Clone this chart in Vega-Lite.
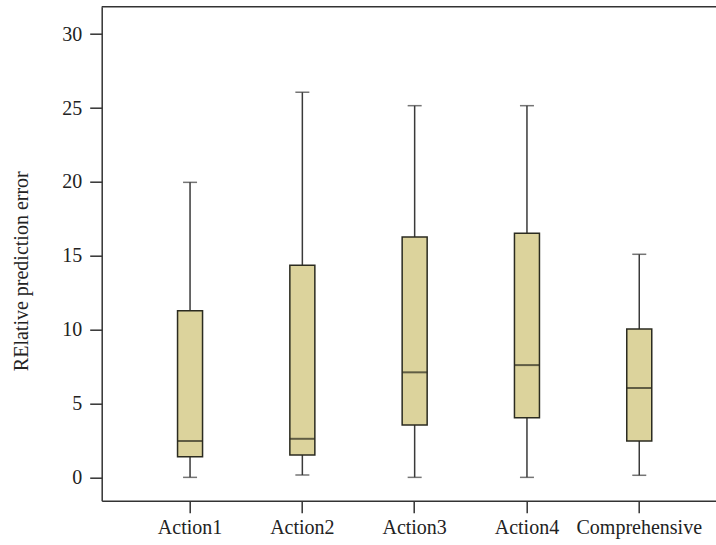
{
  "$schema": "https://vega.github.io/schema/vega-lite/v6.json",
  "autosize": {"type": "none"},
  "width": 614.3,
  "height": 494,
  "padding": {"left": 101.7, "top": 6.7, "right": 0, "bottom": 44.3},
  "background": "white",
  "config": {
    "view": {"stroke": null},
    "axis": {
      "grid": false,
      "domainColor": "#333333",
      "domainWidth": 1.5,
      "tickColor": "#333333",
      "tickWidth": 1.5,
      "tickSize": 12,
      "labelFont": "Liberation Serif",
      "labelFontSize": 20,
      "labelColor": "#222222",
      "titleFont": "Liberation Serif",
      "titleFontSize": 20,
      "titleFontWeight": "normal",
      "titleColor": "#222222"
    }
  },
  "data": {
    "values": [
      {"category": "Action1", "min": 0, "q1": 1.39, "median": 2.46, "q3": 11.28, "max": 19.97},
      {"category": "Action2", "min": 0.16, "q1": 1.51, "median": 2.61, "q3": 14.35, "max": 26.07},
      {"category": "Action3", "min": 0, "q1": 3.54, "median": 7.11, "q3": 16.27, "max": 25.16},
      {"category": "Action4", "min": 0, "q1": 4.04, "median": 7.6, "q3": 16.52, "max": 25.16},
      {"category": "Comprehensive", "min": 0.14, "q1": 2.46, "median": 6.05, "q3": 10.04, "max": 15.1}
    ]
  },
  "layer": [
    {
      "mark": {"type": "rule", "color": "#3a3a3a", "strokeWidth": 1.5},
      "encoding": {
        "x": {
          "field": "category",
          "type": "nominal",
          "sort": null,
          "scale": {"type": "band", "paddingInner": 0, "paddingOuter": 0.235, "align": 0.61},
          "axis": {"title": null, "labelAngle": 0, "labelPadding": 5, "labelBaseline": "top"}
        },
        "y": {
          "field": "min",
          "type": "quantitative",
          "scale": {"domain": [-1.58, 31.86], "nice": false, "zero": false},
          "axis": {
            "title": "RElative prediction error",
            "values": [0, 5, 10, 15, 20, 25, 30],
            "labelPadding": 8,
            "titleX": -80,
            "titleY": 264,
            "titleAngle": -90,
            "titleAlign": "center",
            "titleBaseline": "middle"
          }
        },
        "y2": {"field": "max"}
      }
    },
    {
      "mark": {"type": "tick", "color": "#3a3a3a", "size": 14, "thickness": 1.5},
      "encoding": {
        "x": {"field": "category", "type": "nominal", "sort": null},
        "y": {"field": "min", "type": "quantitative"}
      }
    },
    {
      "mark": {"type": "tick", "color": "#3a3a3a", "size": 14, "thickness": 1.5},
      "encoding": {
        "x": {"field": "category", "type": "nominal", "sort": null},
        "y": {"field": "max", "type": "quantitative"}
      }
    },
    {
      "mark": {"type": "bar", "fill": "#dcd39c", "stroke": "#2b2b20", "strokeWidth": 1.5, "size": 25},
      "encoding": {
        "x": {"field": "category", "type": "nominal", "sort": null},
        "y": {"field": "q1", "type": "quantitative"},
        "y2": {"field": "q3"}
      }
    },
    {
      "mark": {"type": "tick", "color": "#2b2b20", "size": 25, "thickness": 2},
      "encoding": {
        "x": {"field": "category", "type": "nominal", "sort": null},
        "y": {"field": "median", "type": "quantitative"}
      }
    },
    {
      "data": {"values": [{"frame": "top"}]},
      "mark": {"type": "rule", "color": "#333333", "strokeWidth": 1.5},
      "encoding": {"y": {"datum": 31.86}}
    }
  ]
}
